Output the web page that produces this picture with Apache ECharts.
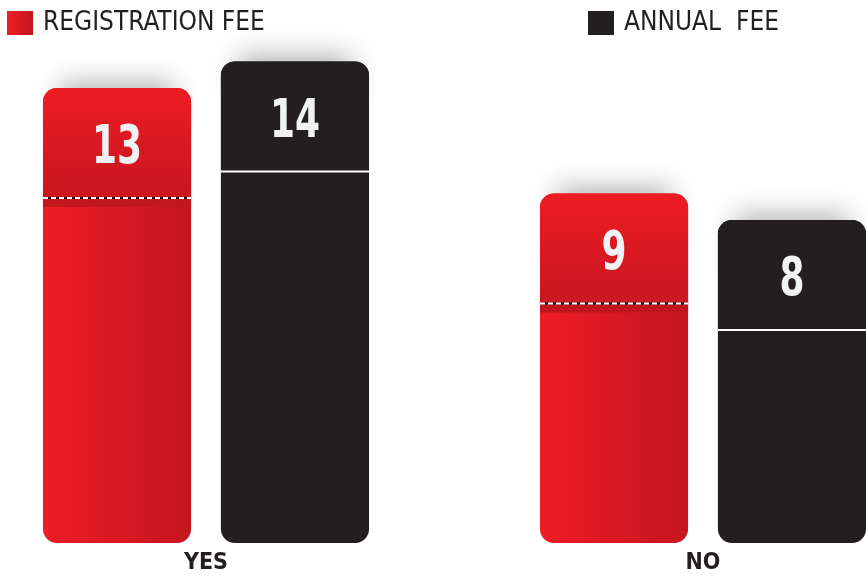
<!DOCTYPE html>
<html>
<head>
<meta charset="utf-8">
<script src="https://cdn.jsdelivr.net/npm/echarts@6/dist/echarts.min.js"></script>
<style>
  html, body { margin: 0; padding: 0; background: #fff; }
  #main { width: 866px; height: 578px; }
</style>
</head>
<body>
<div id="main"></div>
<script>
var categories = ['YES', 'NO'];
var registrationFee = [13, 9];
var annualFee = [14, 8];
var seriesNames = ['REGISTRATION FEE', 'ANNUAL  FEE'];

var chart = echarts.init(document.getElementById('main'));

var redBody = new echarts.graphic.LinearGradient(0, 0, 1, 0, [
    { offset: 0, color: '#ee1c25' },
    { offset: 1, color: '#c4161f' }
]);
var redCap = new echarts.graphic.LinearGradient(0, 0, 0, 1, [
    { offset: 0, color: '#ed1c24' },
    { offset: 1, color: '#c8161f' }
]);
var dark = '#231f20';
var narrow = '"DejaVu Sans Condensed", "Liberation Sans Narrow", sans-serif';

function makeRender(side, isRed) {
    return function (params, api) {
        var band = api.size([1, 0])[0];
        var w = band * 0.298;
        var gap = band * 0.06;
        var cx = api.coord([api.value(0), 0])[0];
        var top = api.coord([api.value(0), api.value(1)])[1];
        var bottom = params.coordSys.y + params.coordSys.height;
        var x = side < 0 ? cx - gap / 2 - w : cx + gap / 2;
        var capH = 110;
        var children = [];
        // soft shadow above the bar
        children.push({
            type: 'rect',
            shape: { x: x + w * 0.12, y: top + 6, width: w * 0.76, height: 40 },
            style: { fill: '#ffffff', shadowBlur: 26, shadowOffsetY: -12, shadowColor: 'rgba(0,0,0,0.3)' }
        });
        children.push({
            type: 'rect',
            shape: { x: x, y: top, width: w, height: bottom - top, r: 14 },
            style: { fill: isRed ? redBody : dark }
        });
        children.push({
            type: 'rect',
            shape: { x: x, y: top, width: w, height: capH, r: [14, 14, 0, 0] },
            style: { fill: isRed ? redCap : dark }
        });
        if (isRed) {
            children.push({
                type: 'rect',
                shape: { x: x, y: top + capH, width: w, height: 9 },
                style: { fill: '#c3171f' }
            });
            children.push({
                type: 'line',
                shape: { x1: x, y1: top + capH, x2: x + w, y2: top + capH },
                style: { stroke: '#1a1a1a', lineWidth: 2 }
            });
            children.push({
                type: 'line',
                shape: { x1: x, y1: top + capH, x2: x + w, y2: top + capH },
                style: { stroke: '#ffffff', lineWidth: 2, lineDash: [5, 3] }
            });
        } else {
            children.push({
                type: 'line',
                shape: { x1: x, y1: top + capH, x2: x + w, y2: top + capH },
                style: { stroke: '#ffffff', lineWidth: 2 }
            });
        }
        children.push({
            type: 'text',
            x: x + w / 2, y: top + 61,
            scaleX: 0.74,
            style: {
                text: String(api.value(1)),
                x: 0, y: 0,
                align: 'center', verticalAlign: 'middle',
                fill: '#f1f2f4',
                font: 'bold 54px ' + narrow
            }
        });
        return { type: 'group', children: children };
    };
}

var option = {
    animation: false,
    grid: { left: -42.5, right: -85.5, top: 0, bottom: 35, outerBoundsMode: 'none', containLabel: false },
    legend: [
        {
            left: 7, top: 10, padding: 0, itemWidth: 26, itemHeight: 24, selectedMode: false,
            textStyle: { color: dark, fontSize: 26, fontFamily: narrow, padding: [0, 0, 0, 5] },
            data: [{ name: seriesNames[0], icon: 'rect', itemStyle: { color: new echarts.graphic.LinearGradient(0, 0, 1, 0, [
                { offset: 0, color: '#ee1c25' }, { offset: 1, color: '#c1161f' }]) } }]
        },
        {
            left: 588, top: 10, padding: 0, itemWidth: 26, itemHeight: 24, selectedMode: false,
            textStyle: { color: dark, fontSize: 26, fontFamily: narrow, padding: [0, 0, 0, 5] },
            data: [{ name: seriesNames[1], icon: 'rect', itemStyle: { color: dark } }]
        }
    ],
    xAxis: {
        type: 'category',
        data: categories,
        axisLine: { show: false },
        axisTick: { show: false },
        axisLabel: { color: dark, fontSize: 23, fontWeight: 'bold', fontFamily: narrow, margin: 9 }
    },
    yAxis: { type: 'value', show: false, min: -4.24, max: 16.33 },
    series: [
        {
            name: seriesNames[0], type: 'custom',
            renderItem: makeRender(-1, true),
            encode: { x: 0, y: 1 },
            itemStyle: { color: '#e31b23' },
            data: categories.map(function (c, i) { return [i, registrationFee[i]]; })
        },
        {
            name: seriesNames[1], type: 'custom',
            renderItem: makeRender(1, false),
            encode: { x: 0, y: 1 },
            itemStyle: { color: dark },
            data: categories.map(function (c, i) { return [i, annualFee[i]]; })
        }
    ]
};
chart.setOption(option);
</script>
</body>
</html>
